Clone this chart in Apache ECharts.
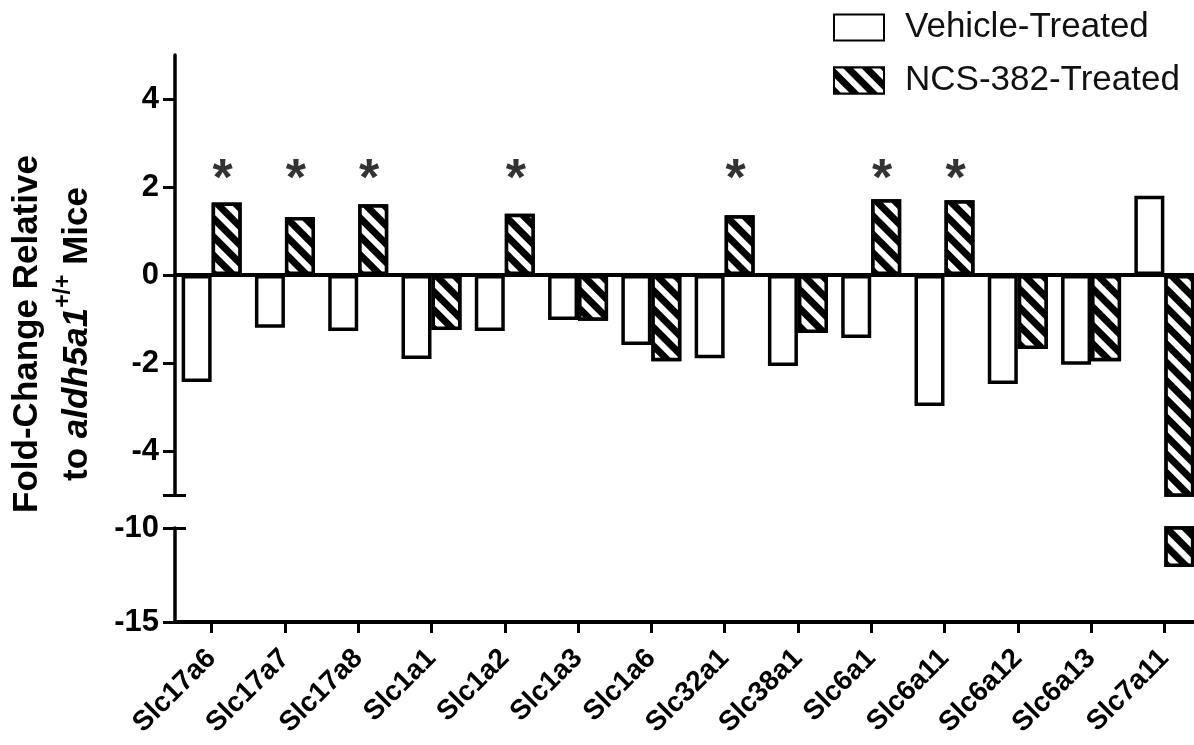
<!DOCTYPE html>
<html>
<head>
<meta charset="utf-8">
<script src="https://cdn.jsdelivr.net/npm/echarts@6/dist/echarts.min.js"></script>
<style>
html,body{margin:0;padding:0;background:#fff;}
#chart{width:1194px;height:745px;}
</style>
</head>
<body>
<div id="chart"></div>
<script>
const categories = ['Slc17a6','Slc17a7','Slc17a8','Slc1a1','Slc1a2','Slc1a3','Slc1a6','Slc32a1','Slc38a1','Slc6a1','Slc6a11','Slc6a12','Slc6a13','Slc7a11'];
const vehicle = [-2.43, -1.20, -1.27, -1.91, -1.27, -1.02, -1.59, -1.89, -2.07, -1.43, -2.98, -2.48, -2.04, 1.80];
const ncs = [1.65, 1.32, 1.61, -1.25, 1.39, -1.04, -1.96, 1.36, -1.32, 1.72, 1.70, -1.68, -1.96, -12.07];
const significant = [1, 1, 1, 0, 1, 0, 0, 1, 0, 1, 1, 0, 0, 0];
const upperTicks = [-4, -2, 0, 2, 4];
const lowerTicks = [-15, -10];
const upperRange = [-5, 5];
const lowerRange = [-15, -10];
const starLevel = 2.45;

const FONT = '"Liberation Sans", Arial, Helvetica, sans-serif';
const chart = echarts.init(document.getElementById('chart'));

const hatch = {
  symbol: 'rect', symbolSize: 1,
  dashArrayX: [1, 0], dashArrayY: [7, 6],
  rotation: Math.PI / 4,
  color: '#000', backgroundColor: '#fff'
};
const vehStyle = { color: '#fff', borderColor: '#000', borderWidth: 3.5 };
const ncsStyle = { color: '#fff', borderColor: '#000', borderWidth: 3.5, decal: hatch };

const gridCommon = { left: 175, width: 1026, outerBoundsMode: 'none', containLabel: false };

function mainY(gridIndex, range, tickVals, labelVals) {
  return {
    type: 'value', gridIndex, min: range[0], max: range[1], position: 'left',
    axisLine: { show: true, lineStyle: { color: '#000', width: 3.5 } },
    axisTick: { show: true, length: 12, customValues: tickVals, lineStyle: { color: '#000', width: 3 } },
    axisLabel: { show: true, customValues: labelVals, margin: 16, color: '#000', fontFamily: FONT, fontWeight: 'bold', fontSize: 31 },
    splitLine: { show: false }
  };
}
function breakY(gridIndex, range, val) {
  return {
    type: 'value', gridIndex, min: range[0], max: range[1], position: 'left',
    axisLine: { show: false },
    axisTick: { show: true, inside: true, length: 11, customValues: [val], lineStyle: { color: '#000', width: 3 } },
    axisLabel: { show: false },
    splitLine: { show: false }
  };
}

const option = {
  animation: false,
  backgroundColor: '#fff',
  legend: {
    orient: 'vertical', left: 828, top: 5,
    icon: 'rect', itemWidth: 50, itemHeight: 26, itemGap: 18,
    data: ['Vehicle-Treated', 'NCS-382-Treated'],
    textStyle: { fontFamily: FONT, fontSize: 35, color: '#111', padding: [0, 0, 0, 16] }
  },
  grid: [
    Object.assign({ top: 55, height: 440 }, gridCommon),
    Object.assign({ top: 528, height: 94 }, gridCommon)
  ],
  xAxis: [
    {
      type: 'category', gridIndex: 0, data: categories,
      axisLine: { show: true, onZero: true, lineStyle: { color: '#000', width: 4 } },
      axisTick: { show: false }, axisLabel: { show: false }, splitLine: { show: false }
    },
    {
      type: 'category', gridIndex: 1, data: categories, position: 'bottom',
      axisLine: { show: true, onZero: false, lineStyle: { color: '#000', width: 4 } },
      axisTick: { show: true, alignWithLabel: true, length: 11, lineStyle: { color: '#000', width: 3 } },
      axisLabel: { show: true, interval: 0, rotate: 45, margin: 32, color: '#000', fontFamily: FONT, fontWeight: 'bold', fontSize: 28 },
      splitLine: { show: false }
    }
  ],
  yAxis: [
    mainY(0, upperRange, [-5].concat(upperTicks), upperTicks),
    breakY(0, upperRange, upperRange[0]),
    mainY(1, lowerRange, lowerTicks, lowerTicks),
    breakY(1, lowerRange, lowerRange[1])
  ],
  graphic: [{
    type: 'text', x: 52, y: 334, rotation: Math.PI / 2,
    style: {
      text: '{b|Fold-Change Relative}\n{b|to }{i|aldh5a1}{s|+/+}{b| Mice}',
      align: 'center', verticalAlign: 'middle',
      fill: '#000',
      rich: {
        b: { fontFamily: FONT, fontWeight: 'bold', fontSize: 35, lineHeight: 50, fill: '#000' },
        i: { fontFamily: FONT, fontWeight: 'bold', fontStyle: 'italic', fontSize: 35, lineHeight: 50, fill: '#000' },
        s: { fontFamily: FONT, fontWeight: 'bold', fontSize: 23, lineHeight: 32, verticalAlign: 'top', fill: '#000' }
      }
    }
  }],
  series: [
    { name: 'Vehicle-Treated', type: 'bar', xAxisIndex: 0, yAxisIndex: 0, data: vehicle, barWidth: 30, barGap: '0%', itemStyle: vehStyle },
    { name: 'NCS-382-Treated', type: 'bar', xAxisIndex: 0, yAxisIndex: 0, data: ncs, barWidth: 30, barGap: '0%', itemStyle: ncsStyle },
    { name: 'Vehicle-Treated', type: 'bar', xAxisIndex: 1, yAxisIndex: 2, data: vehicle, barWidth: 30, barGap: '0%', itemStyle: vehStyle },
    { name: 'NCS-382-Treated', type: 'bar', xAxisIndex: 1, yAxisIndex: 2, data: ncs, barWidth: 30, barGap: '0%', itemStyle: ncsStyle },
    {
      type: 'scatter', xAxisIndex: 0, yAxisIndex: 0, symbolSize: 1, itemStyle: { color: 'rgba(0,0,0,0)' },
      data: significant.map(s => s ? starLevel : '-'),
      label: { show: true, formatter: '*', position: 'inside', offset: [11, 13], color: '#000', fontFamily: FONT, fontWeight: 'bold', fontSize: 52 },
      silent: true
    }
  ]
};
chart.setOption(option);
</script>
</body>
</html>
